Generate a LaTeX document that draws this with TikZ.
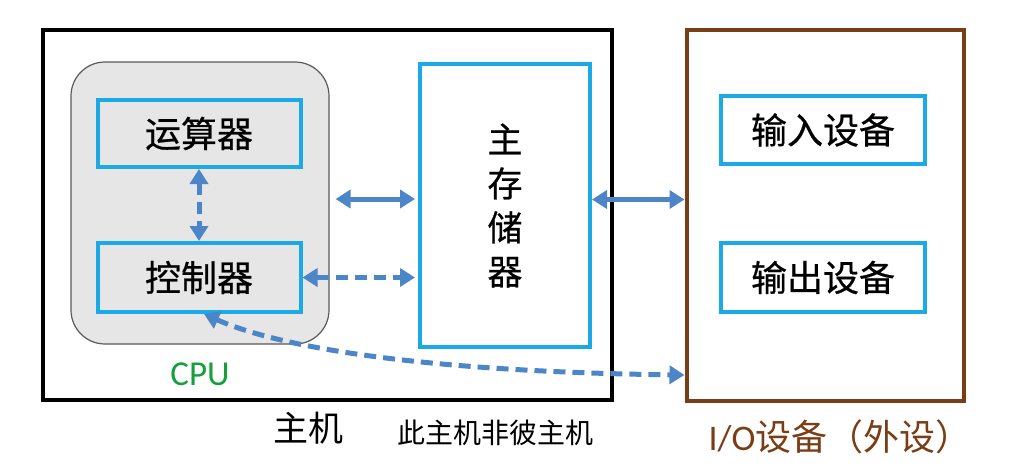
\documentclass[tikz,border=0pt]{standalone}
\usepackage{fontspec}
\setmainfont{Carlito}
\newfontfamily\cjk{Noto Sans CJK SC}
\newfontfamily\cjkb{Noto Sans CJK SC}[FakeBold=0.6]
\newfontfamily\lat{Carlito}
\usetikzlibrary{arrows.meta,calc}
\definecolor{boxblue}{RGB}{28,170,230}
\definecolor{arrblue}{RGB}{76,134,200}
\definecolor{iobrown}{RGB}{122,62,22}
\definecolor{cpugreen}{RGB}{22,160,60}
\definecolor{cpufill}{RGB}{230,230,230}
\definecolor{cpuedge}{RGB}{90,90,90}
\begin{document}
\begin{tikzpicture}[x=1pt,y=-1pt,
  bluebox/.style={draw=boxblue,line width=4pt,fill=#1,inner sep=0pt,font=\cjkb\fontsize{36}{40}\selectfont},
  bluebox/.default=white,
  arr/.style={draw=arrblue,line width=5pt,{Triangle[length=15pt,width=18pt]}-{Triangle[length=15pt,width=18pt]}},
  dasharr/.style={arr,dash pattern=on 12pt off 7pt},
  lbl/.style={inner sep=0pt,anchor=center}]
\useasboundingbox (0,0) rectangle (1019,474);
\node[draw=black,line width=4pt,minimum width=569pt,minimum height=370pt,inner sep=0pt] (host) at (327.5,215) {};
\node[draw=iobrown,line width=4pt,minimum width=277pt,minimum height=371pt,inner sep=0pt] (io) at (825,215.5) {};
\node[draw=cpuedge,line width=1.2pt,fill=cpufill,rounded corners=34pt,minimum width=258pt,minimum height=282pt,inner sep=0pt] (cpu) at (200,203) {};
\node[bluebox=cpufill,minimum width=203pt,minimum height=67pt] (alu) at (199,133.5) {运算器};
\node[bluebox=cpufill,minimum width=203pt,minimum height=69pt] (cu) at (199,277.5) {控制器};
\node[bluebox,minimum width=170pt,minimum height=283pt,align=center,font=\cjkb\fontsize{35}{44}\selectfont] (mem) at (505,205.5) {主\\存\\储\\器};
\node[bluebox,minimum width=204pt,minimum height=68pt] (in) at (823,130) {输入设备};
\node[bluebox,minimum width=204pt,minimum height=69pt] (out) at (823,277.5) {输出设备};
\node[lbl,text=cpugreen,font=\lat\fontsize{35}{40}\selectfont] (cpulbl) at (200,374) {CPU};
\node[lbl,font=\cjk\fontsize{35}{40}\selectfont] (hostlbl) at (308,428) {主机};
\node[lbl,font=\cjk\fontsize{28}{32}\selectfont] (note) at (495,433) {此主机非彼主机};
\node[lbl,text=iobrown,font=\fontsize{36}{40}\selectfont] (iolbl) at (840,437) {{\lat I/O}{\cjk 设备（外设）}};
\draw[dasharr] (alu.south) -- (cu.north);
\draw[arr,shorten <=6pt,shorten >=3pt] ([yshift=4pt]cpu.east) -- ([yshift=4pt]cpu.east -| mem.west);
\draw[dasharr,shorten >=3pt] (cu.east) -- (cu.east -| mem.west);
\draw[arr] ([yshift=6pt]mem.east) -- ([yshift=6pt]mem.east -| io.west);
\draw[dasharr] ([xshift=5pt]cu.south) .. controls (290,352) and (450,372) .. ([yshift=28pt]io.south west);
\end{tikzpicture}
\end{document}
